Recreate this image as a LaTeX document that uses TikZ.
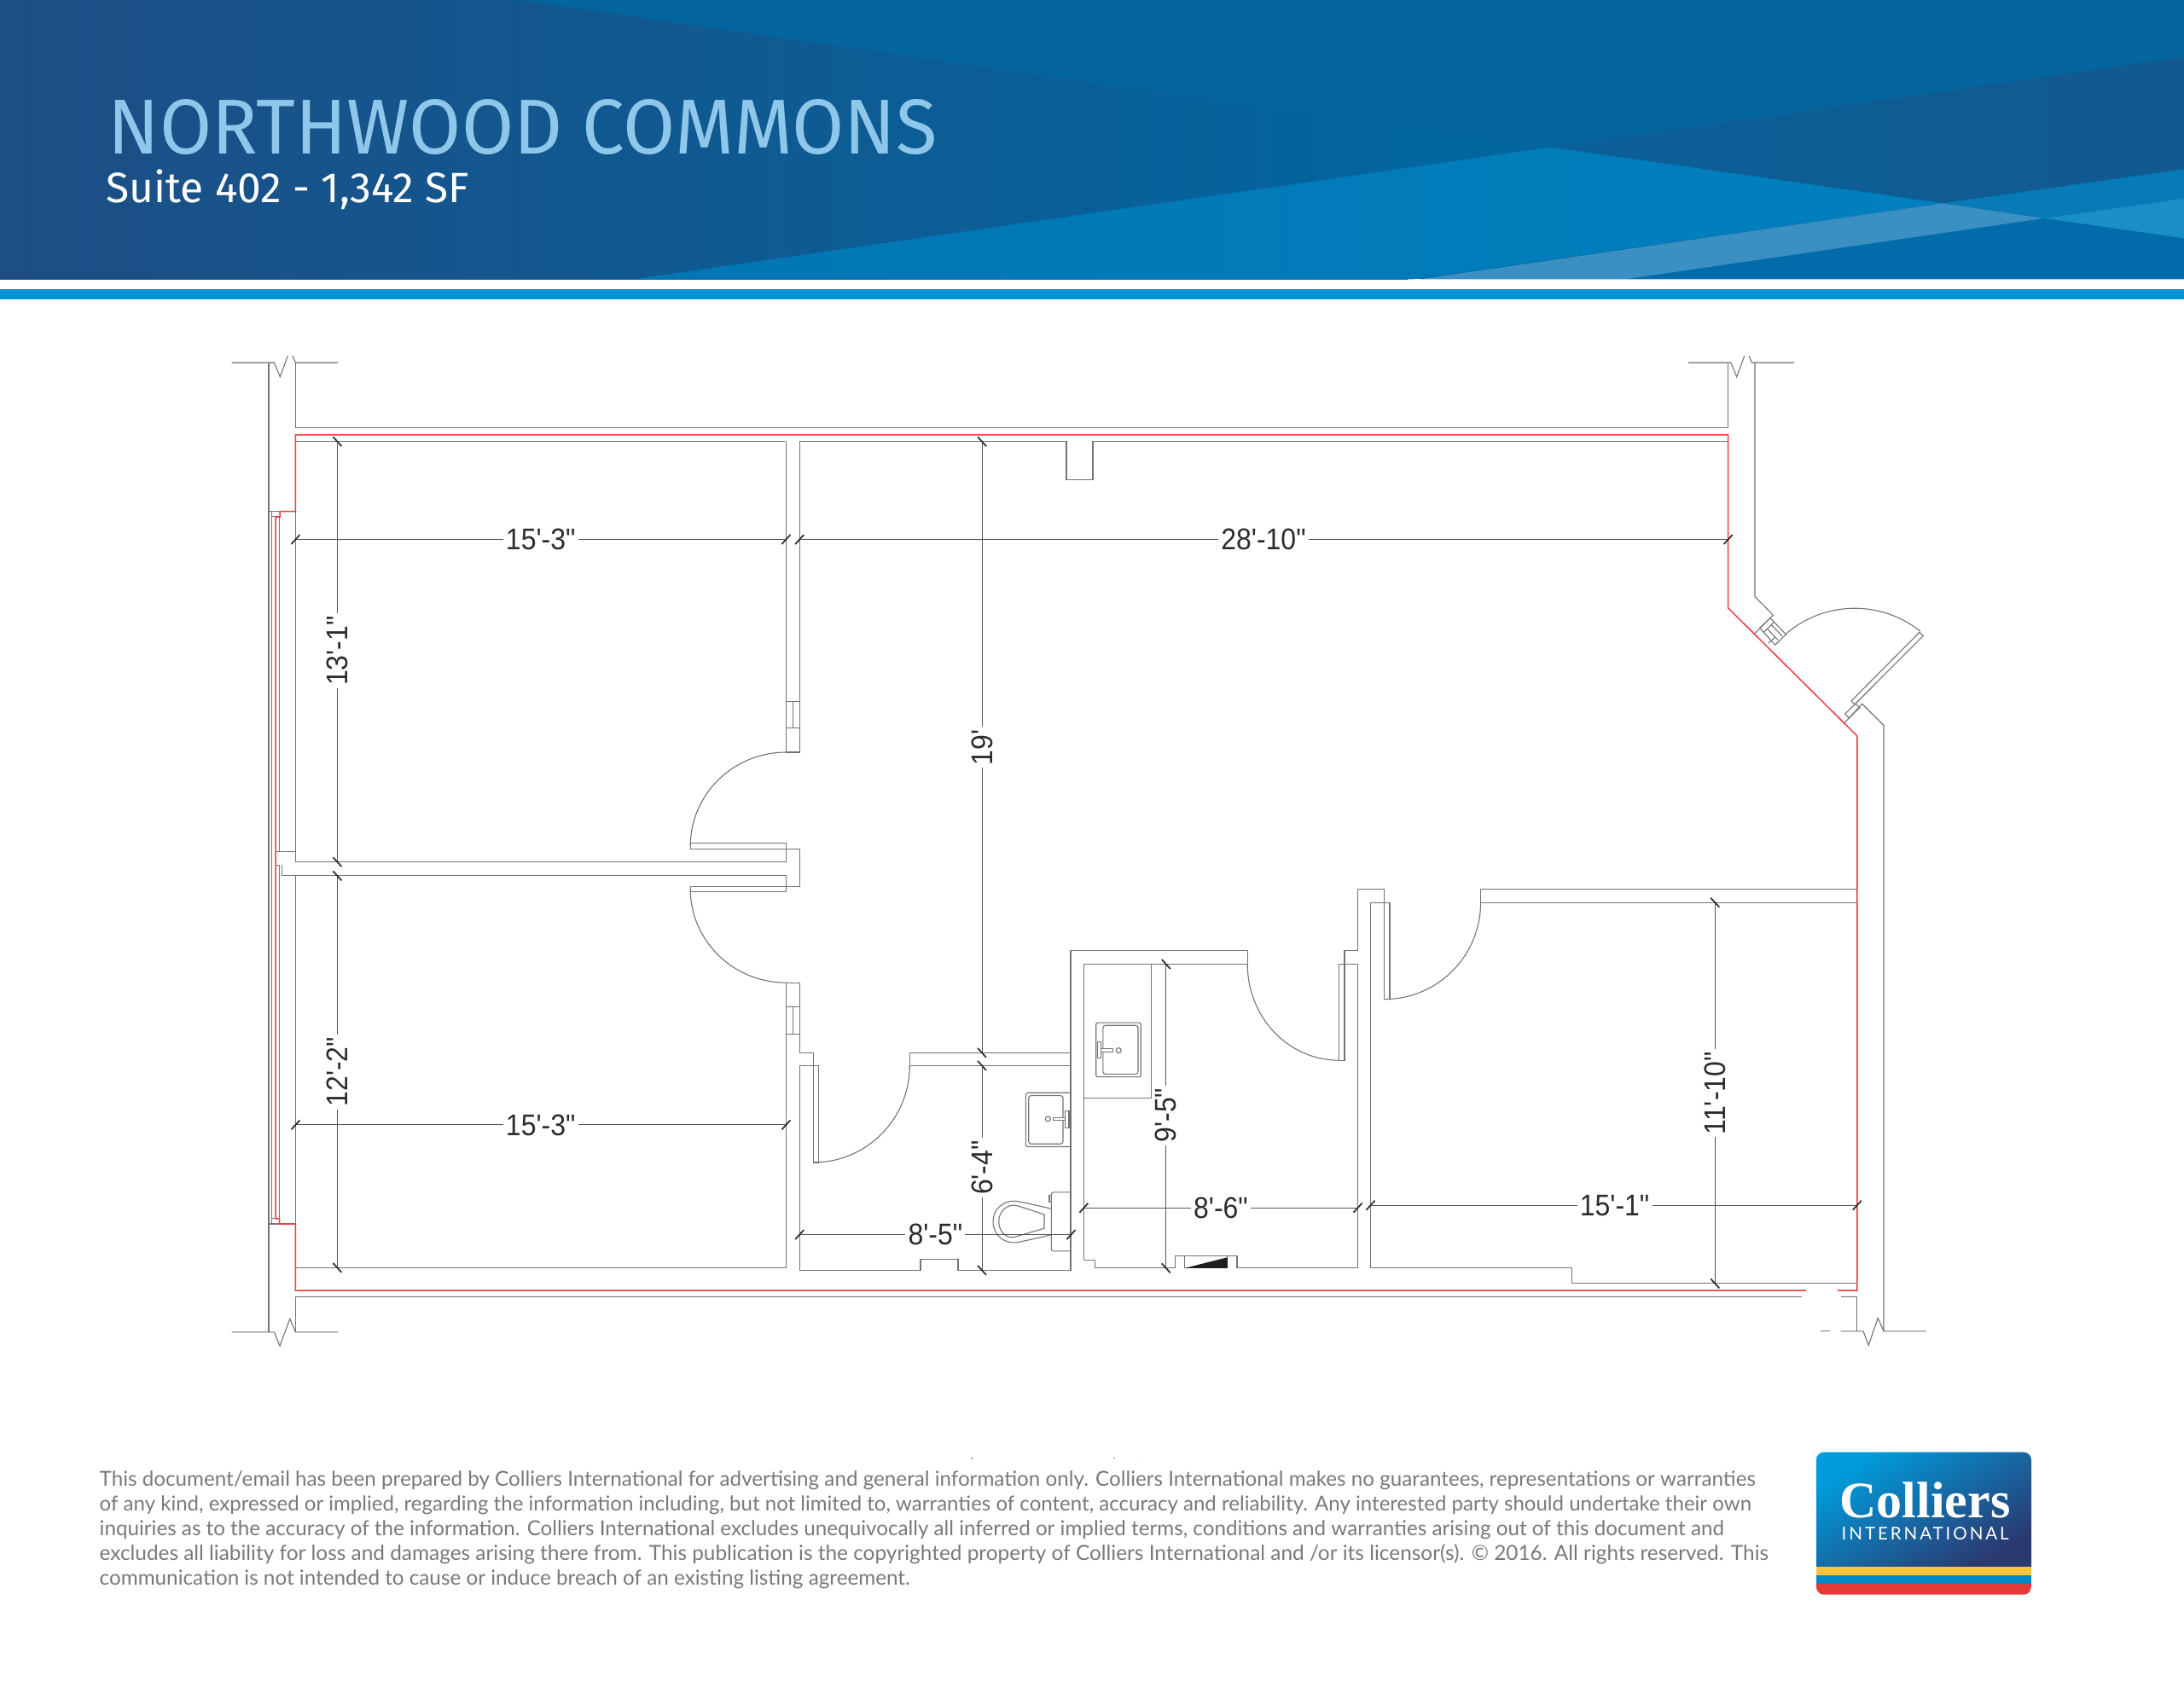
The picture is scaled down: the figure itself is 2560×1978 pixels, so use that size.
\documentclass[tikz,border=0pt]{standalone}
\usepackage{fontspec}
\usepackage{graphicx}
\setmainfont{Liberation Sans}
\newfontfamily\dimfont{Liberation Sans}
\newfontfamily\headfont{Fira Sans}
\newfontfamily\legalfont{Lato}
\newfontfamily\logoserif{Liberation Serif}[BoldFont={Liberation Serif Bold}]
\newfontfamily\logosans{Lato}[LetterSpace=14]
\definecolor{linegray}{HTML}{747474}
\definecolor{redline}{HTML}{EE3B44}
\definecolor{dimink}{HTML}{2C2C2C}
\definecolor{barblue}{HTML}{0095D6}
\definecolor{legalgray}{HTML}{77797B}
\definecolor{hOne}{HTML}{1D4E85}
\definecolor{hTwo}{HTML}{03659E}
\definecolor{hA}{HTML}{03649E}
\definecolor{hBa}{HTML}{0B6099}
\definecolor{hBb}{HTML}{11598F}
\definecolor{hCa}{HTML}{0276B4}
\definecolor{hCb}{HTML}{0180BD}
\definecolor{hS}{HTML}{3A8FC3}
\definecolor{hD}{HTML}{026CAA}
\definecolor{hE}{HTML}{087AB7}
\definecolor{hF}{HTML}{1A8FC6}
\definecolor{titleblue}{HTML}{8EC7EA}
\definecolor{lgA}{HTML}{009CDB}
\definecolor{lgB}{HTML}{0E5A92}
\definecolor{lgC}{HTML}{2B3971}
\definecolor{lgYellow}{HTML}{FFC43D}
\definecolor{lgBlue}{HTML}{0088C5}
\definecolor{lgRed}{HTML}{E53A3A}
\tikzset{
  ln/.style={draw=linegray,line width=0.11mm,line join=miter},
  rd/.style={draw=redline,line width=0.15mm,line join=miter},
  dimln/.style={draw=dimink!80!white,line width=0.1mm},
  tick/.style={draw=dimink,line width=0.17mm},
  dimtxt/.style={font=\dimfont\fontsize{10}{11}\selectfont,text=dimink,fill=white,inner sep=0.9pt},
}
% dimension label: Arial-like text, slightly condensed
\newcommand\dimlab[1]{\scalebox{0.91}[1]{#1}}
% tick marks: horizontal dimension (slash), vertical dimension (backslash)
\newcommand\tkh[2]{\draw[tick] (#1-5,#2+5.5) -- (#1+5,#2-5.5);}
\newcommand\tkv[2]{\draw[tick] (#1-5,#2-5.5) -- (#1+5,#2+5.5);}
% elliptical arc through a parametric plot: cx cy rx ry a1 a2 (screen angles)
\newcommand\arcpx[6]{\draw[ln] plot[domain=#5:#6,samples=48] ({#1+#3*cos(\x)},{#2+#4*sin(\x)});}
% disclaimer line: name, baseline y, width mm, text
\newcommand\legal[4]{\node[anchor=base west,inner sep=0pt,text=legalgray] (#1) at (116,#2) {\resizebox{#3mm}{!}{\legalfont\fontsize{7}{8}\selectfont #4}};}
\begin{document}
\begin{tikzpicture}[x=0.1mm,y=-0.1mm]
\useasboundingbox (0,0) rectangle (2560,1978);
\fill[white] (0,0) rectangle (2560,1978);

% ===== header =====
\shade[left color=hOne,right color=hTwo] (0,0) rectangle (1650,327.3);
\fill[hTwo] (1650,0) rectangle (2560,327.3);
\fill[hA] (607,0) -- (2560,0) -- (2560,66.7) -- (1817,172.7) -- cycle;
\shade[left color=hBa,right color=hBb] (1817,172.7) -- (2560,66.7) -- (2560,198.3) -- (2277.6,238.3) -- cycle;
\shade[left color=hCa,right color=hCb] (743,327.3) -- (1817,172.7) -- (2277.6,238.3) -- (1657,327.3) -- cycle;
\fill[hS] (1664,327.3) -- (2277.6,238.3) -- (2397,256) -- (1907,327.3) -- cycle;
\fill[hD] (1907,327.3) -- (2397,256) -- (2560,279.3) -- (2560,327.3) -- cycle;
\fill[hE] (2277.6,238.3) -- (2560,198.3) -- (2560,232.7) -- (2397,256) -- cycle;
\fill[hF] (2397,256) -- (2560,232.7) -- (2560,279.3) -- cycle;
\fill[barblue] (0,338.5) rectangle (2560,350.5);
\node[anchor=base west,inner sep=0pt,text=titleblue] (title) at (126,180)
  {\resizebox{97.2mm}{6.4mm}{\headfont\fontsize{25}{28}\selectfont NORTHWOOD COMMONS}};
\node[anchor=base west,inner sep=0pt,text=white] (subtitle) at (124,237)
  {\resizebox{42.5mm}{!}{\headfont\fontsize{13}{15}\selectfont Suite 402 - 1,342 SF}};

\begin{scope}[yshift=-0.12mm]
% ===== building shell =====
\draw[ln] (271.5,424) -- (315,424) -- (321.5,424) -- (328.3,440.7) -- (337.3,416);
\draw[ln] (342.7,416) -- (346.5,424) -- (396,424);
\draw[ln] (315,424) -- (315,1560.7);
\draw[ln] (346.5,424) -- (346.5,500.5) -- (2025.7,500.5) -- (2025.7,424);
\draw[ln] (1979,424) -- (2026,424) -- (2029,424) -- (2035.7,440.7) -- (2044.7,416);
\draw[ln] (2050,416) -- (2053.3,424) -- (2103,424);
\draw[ln] (2057,424) -- (2057,698.3) -- (2078.3,720) -- (2056.7,741.7);
% entry door frame
\draw[ln] (2062.7,735) -- (2075,723.3) -- (2093.3,742.7) -- (2080.7,755) -- cycle;
\draw[ln] (2067.7,740) -- (2079.3,728.3);
\draw[ln] (2071,735.7) -- (2084.3,749.3);
\draw[ln] (2076,731) -- (2089,744.7);
\draw[ln] (2080.7,745.5) -- (2073,753);
\arcpx{2174}{835}{123}{123}{229}{308.7}
\draw[ln] (2170,820.7) -- (2250,740) -- (2254.3,744.3) -- (2174,824.8) -- cycle;
\draw[ln] (2162.7,835.7) -- (2175,824) -- (2180,828.3) -- (2167.3,840.7) -- cycle;
\draw[ln] (2161.7,846.7) -- (2182.7,824) -- (2208,849.3) -- (2208,1559.6);
% bottom shell
\draw[ln] (271.5,1560.7) -- (315,1560.7) -- (321.4,1560.7) -- (328,1576.9) -- (339.8,1545) -- (346.4,1560.7) -- (396.4,1560.7);
\draw[ln] (346.4,1560.7) -- (346.4,1519.6) -- (2112,1519.6);
\draw[ln] (2157.6,1519.6) -- (2176.8,1519.6) -- (2176.8,1559.6);
\draw[ln] (2133.7,1559.6) -- (2144.7,1559.6);
\draw[ln] (2157.6,1559.6) -- (2184,1559.6) -- (2190.2,1576) -- (2201.2,1544.3) -- (2208,1559.6) -- (2257.6,1559.6);
% glazing
\draw[ln] (315,598.3) -- (328,598.3);
\draw[ln] (318.5,598.3) -- (318.5,1433.8);
\draw[ln] (318.5,604.5) -- (328,604.5);
\draw[ln] (327.7,604.5) -- (327.7,997.5);
\draw[ln] (324,1013) -- (327.7,1013) -- (327.7,1427.6);
\draw[ln] (315,1433.8) -- (346.4,1433.8);
\draw[ln] (318.5,1427.6) -- (327.7,1427.6);

% ===== rooms =====
\draw[ln] (346.4,516.5) -- (921.4,516.5);
\draw[ln] (346.4,508.5) -- (346.4,1009.4) -- (921.4,1009.4) -- (921.4,987.5) -- (809.2,987.5) -- (809.2,994.2) -- (937.2,994.2) -- (937.2,1038.4) -- (809.2,1038.4) -- (809.2,1044.6) -- (921.4,1044.6) -- (921.4,1025.7) -- (330.6,1025.7) -- (330.6,1013);
\draw[ln] (324,997.5) -- (346.4,997.5);
\draw[ln] (346.4,1025.7) -- (346.4,1485.2) -- (921.4,1485.2) -- (921.4,1151) -- (937.2,1151) -- (937.2,1233.2) -- (953.3,1233.2) -- (953.3,1361.8) -- (959.7,1361.8) -- (959.7,1248.3) -- (937.2,1248.3) -- (937.2,1488.2) -- (1079,1488.2) -- (1079,1475) -- (1123,1475) -- (1123,1488.2) -- (1255,1488.2) -- (1255,1113.6) -- (1462.2,1113.6) -- (1462.2,1129.3) -- (1270.4,1129.3) -- (1270.4,1476) -- (1283.3,1476) -- (1283.3,1485.7) -- (1377.6,1485.7) -- (1377.6,1471.6) -- (1450,1471.6) -- (1450,1485.7) -- (1591.5,1485.7) -- (1591.5,1129.3) -- (1569.4,1129.3) -- (1569.4,1242) -- (1576,1242) -- (1576,1113.5) -- (1591.5,1113.5) -- (1591.5,1041) -- (1622.7,1041) -- (1622.7,1170.4) -- (1629,1170.4) -- (1629,1057) -- (1606.5,1057) -- (1606.5,1485.4) -- (1842.8,1485.4) -- (1842.8,1503.7) -- (2176.8,1503.7);
\draw[ln] (1066.3,1233.2) -- (1255,1233.2);
\draw[ln] (1066.3,1233.2) -- (1066.3,1248.2) -- (1255,1248.2);
\draw[ln] (1735.6,1057) -- (1735.6,1041) -- (2176.8,1041);
\draw[ln] (1735.6,1057) -- (2176.8,1057);
\draw[ln] (921.4,516.5) -- (921.4,880.8) -- (937.2,880.8) -- (937.2,516.5) -- (2025.7,516.5);
% column bump on north wall
\fill[white] (1251,512) rectangle (1280,518);
\draw[ln] (1250,516.5) -- (1250,561.5) -- (1281,561.5) -- (1281,516.5);
% small wall inserts
\draw[ln] (921.4,821) -- (937.2,821) (921.4,852.7) -- (937.2,852.7) (929.3,821) -- (929.3,852.7);
\draw[ln] (921.4,1179.3) -- (937.2,1179.3) (921.4,1211.6) -- (937.2,1211.6) (929.3,1179.3) -- (929.3,1211.6);
% door swings
\arcpx{921.4}{991}{112.2}{110.2}{180}{270}
\arcpx{921.4}{1041}{112.2}{110}{90}{180}
\arcpx{953.3}{1248.2}{113}{113.6}{0}{90}
\arcpx{1569.4}{1129.3}{107.2}{112.7}{90}{180}
\arcpx{1622.7}{1057}{112.9}{113.4}{0}{90}

% ===== fixtures =====
\draw[ln,rounded corners=0.25mm] (1255,1280) -- (1202.3,1280) -- (1202.3,1343.3) -- (1255,1343.3);
\draw[ln,rounded corners=0.3mm] (1205.7,1283.3) rectangle (1246,1340);
\draw[ln] (1228.3,1310.7) circle[radius=0.3mm];
\draw[ln,fill=white] (1234.3,1309.3) rectangle (1250,1312.7);
\draw[ln,fill=white] (1248.7,1301.7) rectangle (1253,1321.7);
\draw[ln,rounded corners=0.25mm] (1255,1396.7) -- (1232.3,1396.7) -- (1232.3,1465.7) -- (1255,1465.7);
\draw[ln] (1232.3,1400) -- (1230,1400) -- (1230,1408.3) -- (1232.3,1408.3);
\draw[ln] (1232.3,1416) -- (1195,1407.7) .. controls (1175,1404) and (1164,1418) .. (1164,1431) .. controls (1164,1447) and (1178,1459) .. (1195,1455) -- (1232.3,1446.7);
\draw[ln] (1224,1422.7) -- (1193.3,1412.7) .. controls (1180,1409) and (1170.7,1420) .. (1170.7,1431) .. controls (1170.7,1443) and (1180,1452) .. (1190,1449) -- (1224,1439) -- cycle;
\draw[ln] (1270.4,1129.3) rectangle (1349.5,1286.4);
\draw[ln,rounded corners=0.2mm] (1284.7,1197.9) rectangle (1337.2,1261.4);
\draw[ln,rounded corners=0.3mm] (1292.9,1201) rectangle (1334,1258.2);
\draw[ln] (1311.2,1230.4) circle[radius=0.3mm];
\draw[ln,fill=white] (1288,1228.6) rectangle (1304.6,1232);
\draw[ln,fill=white] (1286.7,1220.4) rectangle (1290.3,1239.3);
\draw[ln] (1388.8,1471.6) rectangle (1438.8,1485.7);
\fill[black!88] (1388.8,1485.7) -- (1438.8,1473) -- (1438.8,1485.7) -- cycle;

% ===== red demising line =====
\draw[rd] (2117,1511.8) -- (346.4,1511.8) -- (346.4,1433.8) -- (327.5,1433.8) -- (327.5,1427.6) -- (323.2,1427.6) -- (323.2,605) -- (328,605) -- (328,598.3) -- (346.4,598.3) -- (346.4,508.6) -- (2025.7,508.6) -- (2025.7,711.7) -- (2176.8,861.7) -- (2176.8,1511.8) -- (2153.8,1511.8);

% ===== dimensions =====
\draw[dimln] (346.4,631.3) -- (921.4,631.3);
\draw[dimln] (937.2,631.3) -- (2025.7,631.3);
\draw[dimln] (346.4,1317.7) -- (921.4,1317.7);
\draw[dimln] (937.2,1446.4) -- (1255.5,1446.4);
\draw[dimln] (1270.4,1415) -- (1591.5,1415);
\draw[dimln] (1606.5,1412) -- (2176.8,1412);
\draw[dimln] (395.4,516.5) -- (395.4,1009.4);
\draw[dimln] (395.4,1025.7) -- (395.4,1485.2);
\draw[dimln] (1151,516.5) -- (1151,1233.2);
\draw[dimln] (1151,1248.2) -- (1151,1488.2);
\draw[dimln] (1366.8,1129.3) -- (1366.8,1485.7);
\draw[dimln] (2010.3,1057) -- (2010.3,1503.7);
\tkh{346.4}{631.3}\tkh{921.4}{631.3}\tkh{937.2}{631.3}\tkh{2025.7}{631.3}
\tkh{346.4}{1317.7}\tkh{921.4}{1317.7}
\tkh{937.2}{1446.4}\tkh{1255.5}{1446.4}
\tkh{1270.4}{1415}\tkh{1591.5}{1415}
\tkh{1606.5}{1412}\tkh{2176.8}{1412}
\tkv{395.4}{516.5}\tkv{395.4}{1009.4}\tkv{395.4}{1025.7}\tkv{395.4}{1485.2}
\tkv{1151}{516.5}\tkv{1151}{1233.2}\tkv{1151}{1248.2}\tkv{1151}{1488.2}
\tkv{1366.8}{1129.3}\tkv{1366.8}{1485.7}
\tkv{2010.3}{1057}\tkv{2010.3}{1503.7}
\node[dimtxt] (d1) at (633.7,631) {\dimlab{15'-3"}};
\node[dimtxt] (d2) at (1481,631) {\dimlab{28'-10"}};
\node[dimtxt] (d3) at (633.7,1318) {\dimlab{15'-3"}};
\node[dimtxt] (d4) at (1096.4,1446) {\dimlab{8'-5"}};
\node[dimtxt] (d5) at (1431,1415) {\dimlab{8'-6"}};
\node[dimtxt] (d6) at (1892.6,1412) {\dimlab{15'-1"}};
\node[dimtxt,rotate=90] (d7) at (395.4,762) {\dimlab{13'-1"}};
\node[dimtxt,rotate=90] (d8) at (395.4,1255.6) {\dimlab{12'-2"}};
\node[dimtxt,rotate=90] (d9) at (1151,875) {\dimlab{19'}};
\node[dimtxt,rotate=90] (d10) at (1151,1367.9) {\dimlab{6'-4"}};
\node[dimtxt,rotate=90] (d11) at (1366.8,1306.4) {\dimlab{9'-5"}};
\node[dimtxt,rotate=90] (d12) at (2010.3,1280.6) {\dimlab{11'-10"}};
\end{scope}

% ===== disclaimer =====
\legal{l1}{1742}{194.1}{This document/email has been prepared by Colliers International for advertising and general information only. Colliers International makes no guarantees, representations or warranties}
\legal{l2}{1771}{193.6}{of any kind, expressed or implied, regarding the information including, but not limited to, warranties of content, accuracy and reliability. Any interested party should undertake their own}
\legal{l3}{1800}{190.4}{inquiries as to the accuracy of the information. Colliers International excludes unequivocally all inferred or implied terms, conditions and warranties arising out of this document and}
\legal{l4}{1829.5}{195.6}{excludes all liability for loss and damages arising there from. This publication is the copyrighted property of Colliers International and /or its licensor(s). © 2016. All rights reserved. This}
\legal{l5}{1858.5}{95}{communication is not intended to cause or induce breach of an existing listing agreement.}
\fill[legalgray] (1139,1710) circle[radius=0.12mm] (1306,1710) circle[radius=0.08mm] (1338,1710) circle[radius=0.05mm];

% ===== logo =====
\begin{scope}[yshift=-0.1mm]
\begin{scope}
\clip[rounded corners=0.9mm] (2129,1701.7) rectangle (2381,1868.7);
\shade[left color=lgA,middle color=lgB,right color=lgC,shading angle=32] (2129,1701.7) rectangle (2381,1835.7);
\fill[lgYellow] (2129,1835.7) rectangle (2381,1846.3);
\fill[lgBlue] (2129,1846.3) rectangle (2381,1856.3);
\fill[lgRed] (2129,1856.3) rectangle (2381,1868.7);
\end{scope}
\node[anchor=base west,inner sep=0pt,text=white] (logoa) at (2155.7,1778)
  {\resizebox{20mm}{!}{\logoserif\bfseries\fontsize{17}{20}\selectfont Colliers}};
\node[anchor=base west,inner sep=0pt,text=white] (logob) at (2158,1804.5)
  {\resizebox{19.6mm}{!}{\logosans\fontsize{6}{7}\selectfont INTERNATIONAL}};
\end{scope}
\end{tikzpicture}
\end{document}
